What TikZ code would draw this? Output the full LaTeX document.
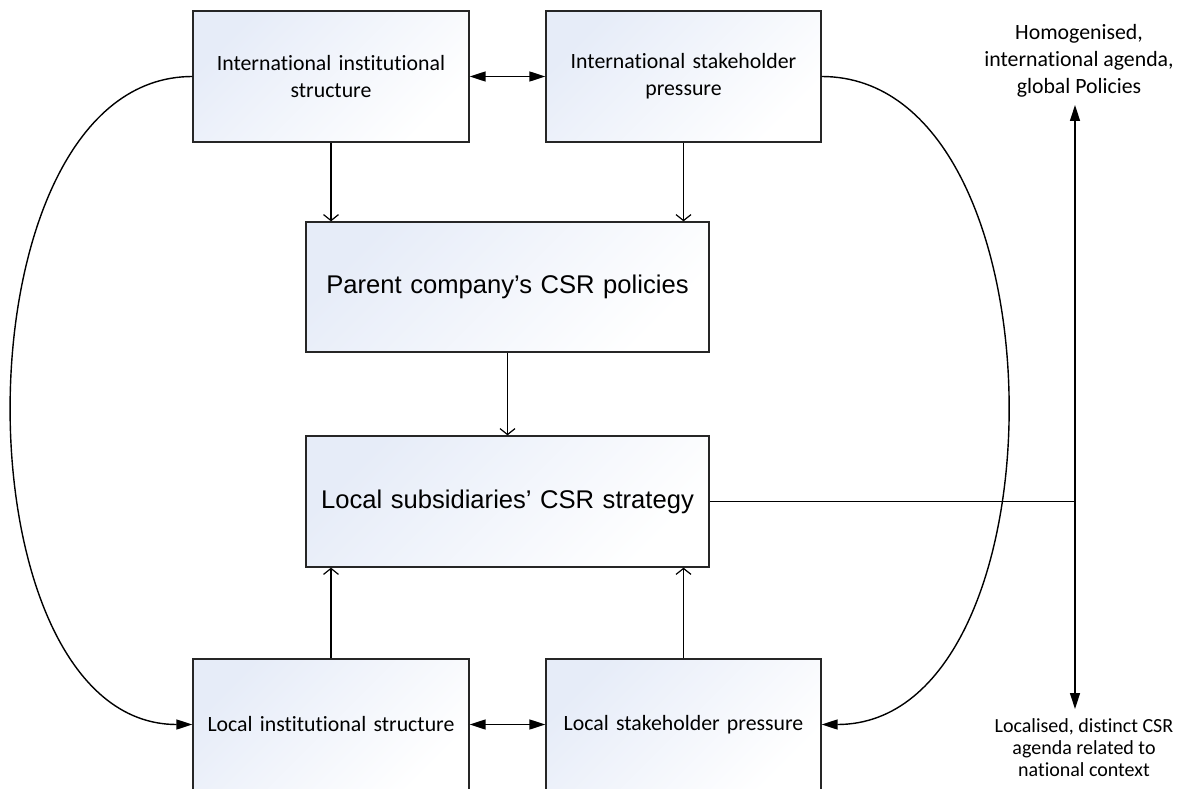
\documentclass[tikz,border=0pt]{standalone}
\usepackage{fontspec}
\setmainfont[Ligatures=NoCommon]{Carlito}
\newfontfamily\arialfont{Liberation Sans}
\usetikzlibrary{arrows.meta}
\definecolor{boxblue}{RGB}{230,236,248}
\begin{document}
\begin{tikzpicture}[x=1pt,y=-1pt,
  box/.style={draw=black!85, line width=1.3pt, top color=boxblue, bottom color=white,
    shading angle=45, inner sep=4pt, align=center},
  smallbox/.style={box, minimum width=276pt, minimum height=131pt, text width=266pt,
    font=\fontsize{21.8}{27}\selectfont},
  bigbox/.style={box, minimum width=403pt, minimum height=130pt, text width=395pt,
    font=\arialfont\fontsize{25.6}{30}\selectfont},
  side/.style={align=center, inner sep=0pt},
  conn/.style={line width=1.4pt},
  open/.style={conn, -{Straight Barb[length=6pt,width=15pt,line width=1.2pt]}},
  fa/.style={conn, -{Triangle[length=16pt,width=10pt]}},
  dfa/.style={conn, {Triangle[length=16pt,width=10pt]}-{Triangle[length=16pt,width=10pt]}}
]
\useasboundingbox (0,0) rectangle (1186,789);

\node[smallbox] (iis) at (331,76.5) {International institutional\\structure};
\node[smallbox, minimum width=275pt] (isp) at (683.5,76.5) {International stakeholder\\pressure};
\node[bigbox] (pc) at (507.5,287) {Parent company’s CSR policies};
\node[bigbox, minimum height=131pt] (ls) at (507.5,501.5) {Local subsidiaries’ CSR strategy};
\node[smallbox] (lis) at (331,724.5) {Local institutional structure};
\node[smallbox, minimum width=275pt] (lsp) at (683.5,724.5) {Local stakeholder pressure};

\node[side, font=\fontsize{21.8}{27}\selectfont] (hom) at (1079,61) {Homogenised,\\international agenda,\\global Policies};
\node[side, font=\fontsize{20}{22}\selectfont] (loc) at (1084,748) {Localised, distinct CSR\\agenda related to\\national context};

\coordinate (vt) at (1075,105);
\coordinate (vb) at (1075,709);

\draw[dfa] (iis.east) -- (isp.west);
\draw[dfa] (lis.east) -- (lsp.west);

\draw[open] (iis.south) -- (iis.south |- pc.north);
\draw[open] (isp.south) -- (isp.south |- pc.north);
\draw[open] (pc.south) -- (ls.north);
\draw[open] (lis.north) -- (lis.north |- ls.south);
\draw[open] (lsp.north) -- (lsp.north |- ls.south);

\draw[fa] (iis.west) .. controls (-48,76.5) and (-48,724.5) .. (lis.west);
\draw[fa] (isp.east) .. controls (1069,76.5) and (1069,724.5) .. (lsp.east);

\draw[dfa] (vt) -- (vb);
\draw[conn] (ls.east) -- (ls.east -| vt);
\end{tikzpicture}
\end{document}
